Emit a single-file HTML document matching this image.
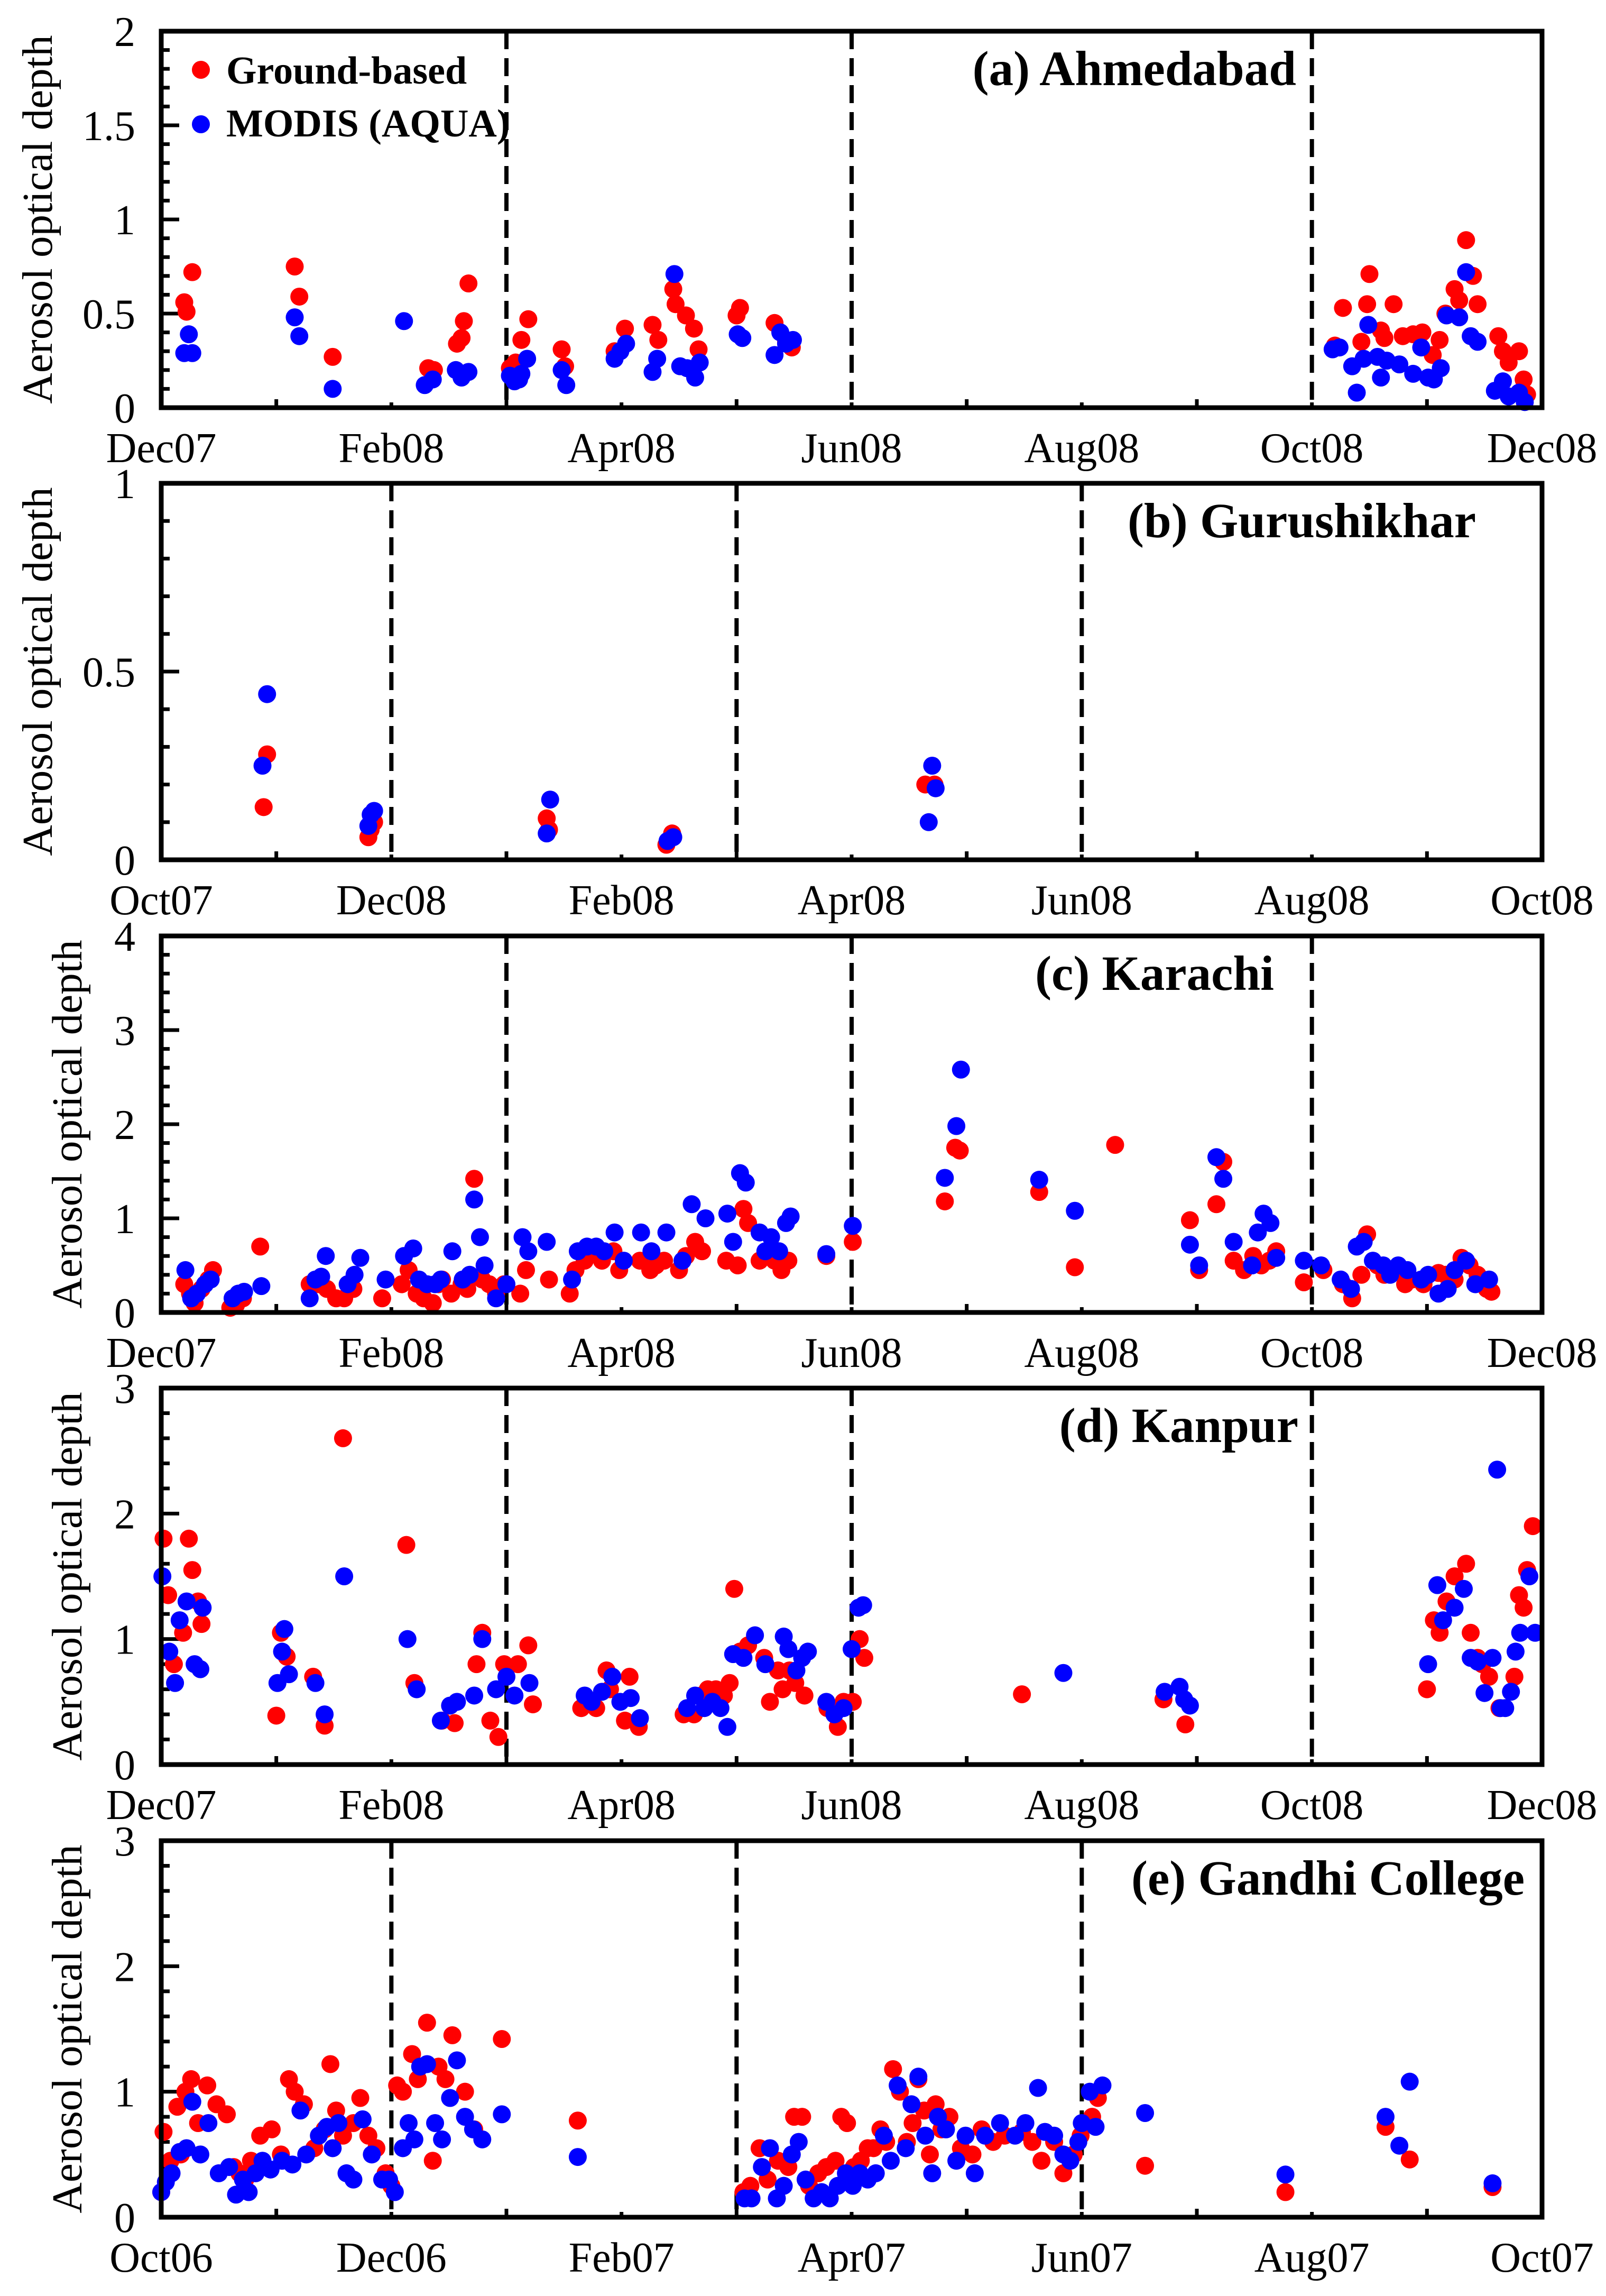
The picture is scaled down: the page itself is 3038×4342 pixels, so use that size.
<!DOCTYPE html>
<html><head><meta charset="utf-8">
<style>
html,body{margin:0;padding:0;background:#fff;}
svg{display:block;}
text{font-family:"Liberation Serif",serif;fill:#000;}
</style></head>
<body>
<svg id="fig" width="3038" height="4342" viewBox="0 0 3038 4342" xmlns="http://www.w3.org/2000/svg"></svg>
<script>
// ---- data: [month offset from first axis label, AOD] ----
const panelTitles = ["(a) Ahmedabad","(b) Gurushikhar","(c) Karachi","(d) Kanpur","(e) Gandhi College"];
const xLabelsA = ["Dec07","Feb08","Apr08","Jun08","Aug08","Oct08","Dec08"];
const xLabelsB = ["Oct07","Dec08","Feb08","Apr08","Jun08","Aug08","Oct08"];
const xLabelsE = ["Oct06","Dec06","Feb07","Apr07","Jun07","Aug07","Oct07"];
const yMaxes = [2,1,4,3,3];
const yMajor = [0.5,0.5,1,1,1];
const yMinor = [0.1,0.1,0.2,0.2,0.2];
const yTickLabelsA = ["0","0.5","1","1.5","2"];
const yTickLabelsB = ["0","0.5","1"];
const yTickLabelsC = ["0","1","2","3","4"];
const yTickLabelsD = ["0","1","2","3"];
const seasonLinesA = [3,6,10];
const seasonLinesB = [2,5,8];

const groundA = [[0.20,0.56],[0.22,0.51],[0.27,0.72],[1.16,0.75],[1.20,0.59],[1.49,0.27],[2.32,0.21],[2.37,0.20],[2.57,0.34],[2.61,0.37],[2.63,0.46],[2.67,0.66],[3.03,0.21],[3.08,0.24],[3.13,0.36],[3.19,0.47],[3.48,0.31],[3.51,0.22],[3.94,0.30],[4.03,0.42],[4.27,0.44],[4.32,0.36],[4.45,0.63],[4.47,0.55],[4.56,0.49],[4.63,0.42],[4.67,0.31],[5.00,0.49],[5.03,0.53],[5.33,0.45],[5.43,0.35],[5.48,0.32],[10.20,0.33],[10.27,0.53],[10.43,0.35],[10.48,0.55],[10.50,0.71],[10.60,0.41],[10.63,0.37],[10.71,0.55],[10.79,0.38],[10.88,0.39],[10.96,0.40],[11.05,0.28],[11.11,0.36],[11.16,0.50],[11.24,0.63],[11.28,0.57],[11.34,0.89],[11.40,0.70],[11.44,0.55],[11.62,0.38],[11.66,0.30],[11.71,0.24],[11.80,0.30],[11.84,0.15],[11.87,0.07]];
const modisA = [[0.20,0.29],[0.24,0.39],[0.27,0.29],[1.16,0.48],[1.20,0.38],[1.49,0.10],[2.11,0.46],[2.29,0.12],[2.36,0.15],[2.56,0.20],[2.61,0.16],[2.63,0.18],[2.67,0.19],[3.03,0.17],[3.07,0.14],[3.11,0.15],[3.13,0.18],[3.18,0.26],[3.48,0.20],[3.52,0.12],[3.94,0.26],[3.99,0.30],[4.04,0.34],[4.27,0.19],[4.31,0.26],[4.46,0.71],[4.51,0.22],[4.57,0.21],[4.64,0.16],[4.68,0.24],[5.01,0.39],[5.05,0.37],[5.33,0.28],[5.38,0.40],[5.43,0.34],[5.49,0.36],[10.18,0.31],[10.24,0.32],[10.35,0.22],[10.39,0.08],[10.45,0.26],[10.49,0.44],[10.57,0.27],[10.60,0.16],[10.65,0.25],[10.76,0.23],[10.88,0.18],[10.95,0.32],[11.01,0.16],[11.06,0.15],[11.12,0.21],[11.17,0.49],[11.28,0.48],[11.34,0.72],[11.38,0.38],[11.44,0.35],[11.59,0.09],[11.66,0.14],[11.71,0.06],[11.80,0.08],[11.85,0.03]];

const groundB = [[0.89,0.14],[0.92,0.28],[1.80,0.06],[1.82,0.08],[1.85,0.10],[3.35,0.11],[3.37,0.08],[4.39,0.04],[4.44,0.07],[6.64,0.20],[6.72,0.20]];
const modisB = [[0.88,0.25],[0.92,0.44],[1.80,0.09],[1.82,0.12],[1.85,0.13],[3.35,0.07],[3.38,0.16],[4.40,0.05],[4.45,0.06],[6.67,0.10],[6.70,0.25],[6.73,0.19]];

const groundC = [[0.20,0.3],[0.25,0.2],[0.29,0.1],[0.35,0.25],[0.41,0.35],[0.45,0.45],[0.60,0.05],[0.65,0.08],[0.71,0.15],[0.86,0.7],[1.29,0.3],[1.37,0.3],[1.44,0.25],[1.52,0.15],[1.59,0.15],[1.67,0.25],[1.92,0.15],[2.09,0.3],[2.15,0.45],[2.22,0.2],[2.28,0.15],[2.36,0.1],[2.41,0.3],[2.44,0.35],[2.52,0.2],[2.61,0.3],[2.66,0.25],[2.72,1.42],[2.79,0.35],[2.85,0.3],[2.91,0.2],[2.98,0.3],[3.12,0.2],[3.17,0.45],[3.37,0.35],[3.55,0.2],[3.60,0.45],[3.68,0.55],[3.74,0.65],[3.83,0.55],[3.93,0.65],[3.98,0.45],[4.16,0.55],[4.25,0.45],[4.30,0.5],[4.37,0.55],[4.50,0.45],[4.56,0.6],[4.64,0.75],[4.70,0.65],[4.91,0.55],[5.01,0.5],[5.06,1.1],[5.10,0.95],[5.20,0.55],[5.26,0.6],[5.33,0.55],[5.39,0.45],[5.45,0.55],[5.78,0.6],[6.01,0.75],[6.81,1.18],[6.90,1.75],[6.94,1.72],[7.63,1.28],[7.94,0.48],[8.29,1.78],[8.94,0.98],[9.02,0.45],[9.17,1.15],[9.23,1.6],[9.32,0.55],[9.41,0.45],[9.49,0.6],[9.56,0.5],[9.63,0.55],[9.69,0.65],[9.93,0.32],[10.10,0.45],[10.27,0.3],[10.35,0.15],[10.43,0.4],[10.48,0.83],[10.57,0.5],[10.63,0.4],[10.72,0.45],[10.81,0.3],[10.87,0.35],[10.97,0.3],[11.10,0.42],[11.16,0.4],[11.24,0.35],[11.30,0.58],[11.37,0.5],[11.44,0.4],[11.52,0.25],[11.56,0.22]];
const modisC = [[0.21,0.45],[0.26,0.15],[0.31,0.2],[0.38,0.3],[0.43,0.35],[0.62,0.15],[0.67,0.2],[0.72,0.22],[0.87,0.28],[1.29,0.15],[1.34,0.35],[1.39,0.38],[1.43,0.6],[1.62,0.3],[1.68,0.4],[1.73,0.58],[1.95,0.35],[2.11,0.6],[2.19,0.68],[2.24,0.35],[2.31,0.3],[2.38,0.3],[2.43,0.35],[2.53,0.65],[2.62,0.35],[2.68,0.4],[2.72,1.2],[2.77,0.8],[2.81,0.5],[2.91,0.15],[3.00,0.3],[3.14,0.8],[3.19,0.65],[3.35,0.75],[3.57,0.35],[3.62,0.65],[3.70,0.7],[3.78,0.7],[3.85,0.65],[3.94,0.85],[4.02,0.55],[4.17,0.85],[4.26,0.65],[4.39,0.85],[4.53,0.55],[4.61,1.15],[4.73,1.0],[4.92,1.05],[4.97,0.75],[5.03,1.48],[5.08,1.38],[5.20,0.85],[5.25,0.65],[5.30,0.8],[5.37,0.65],[5.43,0.95],[5.47,1.02],[5.78,0.62],[6.01,0.92],[6.81,1.43],[6.91,1.98],[6.95,2.58],[7.63,1.41],[7.94,1.08],[8.94,0.72],[9.02,0.5],[9.17,1.65],[9.23,1.42],[9.32,0.75],[9.48,0.5],[9.53,0.85],[9.58,1.05],[9.64,0.95],[9.69,0.58],[9.93,0.55],[10.08,0.5],[10.25,0.35],[10.34,0.25],[10.39,0.7],[10.45,0.75],[10.53,0.55],[10.62,0.5],[10.68,0.4],[10.75,0.5],[10.83,0.45],[10.95,0.35],[11.01,0.4],[11.10,0.2],[11.18,0.25],[11.24,0.45],[11.34,0.55],[11.42,0.3],[11.54,0.35]];

const groundD = [[0.02,1.8],[0.06,1.35],[0.11,0.8],[0.19,1.05],[0.24,1.8],[0.27,1.55],[0.32,1.3],[0.35,1.12],[1.00,0.39],[1.04,1.05],[1.09,0.86],[1.32,0.7],[1.42,0.31],[1.58,2.6],[2.13,1.75],[2.20,0.65],[2.44,0.35],[2.55,0.33],[2.74,0.8],[2.79,1.05],[2.86,0.35],[2.93,0.22],[2.98,0.8],[3.10,0.8],[3.19,0.95],[3.23,0.48],[3.65,0.45],[3.70,0.5],[3.78,0.45],[3.87,0.75],[3.90,0.6],[4.03,0.35],[4.07,0.7],[4.15,0.3],[4.54,0.4],[4.63,0.4],[4.69,0.55],[4.75,0.6],[4.82,0.6],[4.89,0.55],[4.94,0.65],[4.98,1.4],[5.03,0.9],[5.10,0.95],[5.24,0.85],[5.29,0.5],[5.36,0.75],[5.40,0.6],[5.46,0.75],[5.51,0.65],[5.59,0.55],[5.79,0.45],[5.88,0.3],[5.93,0.5],[6.01,0.5],[6.07,1.0],[6.11,0.85],[7.48,0.56],[8.71,0.52],[8.90,0.32],[11.00,0.6],[11.06,1.15],[11.11,1.05],[11.17,1.3],[11.24,1.5],[11.34,1.6],[11.38,1.05],[11.44,0.85],[11.48,0.8],[11.54,0.7],[11.63,0.45],[11.76,0.7],[11.80,1.35],[11.84,1.25],[11.87,1.55],[11.92,1.9]];
const modisD = [[0.01,1.5],[0.07,0.9],[0.12,0.65],[0.16,1.15],[0.22,1.3],[0.29,0.8],[0.34,0.76],[0.36,1.25],[1.01,0.65],[1.05,0.9],[1.07,1.08],[1.11,0.72],[1.34,0.65],[1.42,0.4],[1.59,1.5],[2.14,1.0],[2.22,0.6],[2.43,0.35],[2.51,0.47],[2.57,0.5],[2.72,0.55],[2.79,1.0],[2.91,0.6],[3.00,0.7],[3.07,0.55],[3.20,0.65],[3.68,0.55],[3.74,0.5],[3.83,0.58],[3.92,0.7],[3.99,0.5],[4.08,0.53],[4.16,0.37],[4.57,0.45],[4.64,0.55],[4.72,0.45],[4.79,0.5],[4.86,0.45],[4.92,0.3],[4.97,0.88],[5.06,0.85],[5.16,1.03],[5.25,0.8],[5.41,1.02],[5.45,0.92],[5.52,0.75],[5.57,0.85],[5.62,0.9],[5.78,0.5],[5.85,0.4],[5.93,0.45],[6.00,0.92],[6.06,1.25],[6.10,1.27],[7.84,0.73],[8.72,0.58],[8.85,0.62],[8.89,0.52],[8.94,0.47],[11.01,0.8],[11.09,1.43],[11.14,1.15],[11.24,1.25],[11.32,1.4],[11.38,0.85],[11.44,0.82],[11.50,0.57],[11.57,0.85],[11.61,2.35],[11.64,0.45],[11.68,0.45],[11.73,0.58],[11.77,0.9],[11.81,1.05],[11.89,1.5],[11.94,1.05]];

const groundE = [[0.00,0.2],[0.02,0.68],[0.08,0.45],[0.14,0.88],[0.17,0.5],[0.21,1.0],[0.26,1.1],[0.32,0.75],[0.40,1.05],[0.48,0.9],[0.57,0.82],[0.63,0.4],[0.68,0.35],[0.73,0.3],[0.78,0.45],[0.86,0.65],[0.96,0.7],[1.04,0.5],[1.11,1.1],[1.16,1.0],[1.24,0.9],[1.33,0.55],[1.42,0.7],[1.47,1.22],[1.52,0.85],[1.58,0.65],[1.67,0.75],[1.73,0.95],[1.80,0.65],[1.87,0.55],[1.95,0.35],[2.00,0.25],[2.05,1.05],[2.10,1.0],[2.18,1.3],[2.23,1.1],[2.31,1.55],[2.36,0.45],[2.41,1.2],[2.47,1.1],[2.53,1.45],[2.64,1.0],[2.72,0.7],[2.96,1.42],[3.62,0.77],[5.06,0.2],[5.12,0.25],[5.20,0.55],[5.27,0.3],[5.36,0.45],[5.45,0.4],[5.50,0.8],[5.57,0.8],[5.63,0.25],[5.71,0.35],[5.78,0.4],[5.86,0.45],[5.91,0.8],[5.96,0.75],[6.02,0.4],[6.08,0.45],[6.14,0.55],[6.19,0.55],[6.25,0.7],[6.30,0.6],[6.36,1.18],[6.42,1.0],[6.48,0.6],[6.53,0.75],[6.58,1.1],[6.63,0.85],[6.68,0.5],[6.73,0.9],[6.78,0.7],[6.85,0.8],[6.95,0.55],[7.05,0.5],[7.13,0.7],[7.23,0.6],[7.33,0.65],[7.48,0.68],[7.57,0.6],[7.65,0.45],[7.76,0.6],[7.84,0.35],[7.93,0.5],[7.99,0.65],[8.04,0.75],[8.09,0.8],[8.14,0.95],[8.55,0.41],[9.77,0.2],[10.64,0.72],[10.85,0.46],[11.57,0.24]];
const modisE = [[0.00,0.2],[0.04,0.28],[0.09,0.35],[0.16,0.52],[0.22,0.55],[0.27,0.92],[0.34,0.5],[0.41,0.75],[0.50,0.35],[0.59,0.4],[0.65,0.18],[0.71,0.3],[0.76,0.2],[0.82,0.35],[0.88,0.45],[0.95,0.38],[1.05,0.45],[1.14,0.42],[1.21,0.85],[1.26,0.5],[1.37,0.65],[1.44,0.72],[1.49,0.55],[1.54,0.75],[1.61,0.35],[1.67,0.3],[1.75,0.78],[1.83,0.5],[1.92,0.3],[1.98,0.3],[2.03,0.2],[2.10,0.55],[2.15,0.75],[2.20,0.62],[2.25,1.2],[2.31,1.22],[2.38,0.75],[2.44,0.62],[2.51,0.95],[2.57,1.25],[2.64,0.8],[2.71,0.7],[2.79,0.62],[2.96,0.82],[3.62,0.48],[5.07,0.15],[5.13,0.15],[5.22,0.4],[5.29,0.55],[5.35,0.15],[5.41,0.25],[5.48,0.5],[5.54,0.6],[5.60,0.3],[5.67,0.15],[5.74,0.2],[5.81,0.15],[5.88,0.25],[5.95,0.35],[6.01,0.25],[6.07,0.35],[6.14,0.3],[6.21,0.35],[6.28,0.65],[6.34,0.45],[6.40,1.05],[6.47,0.55],[6.52,0.9],[6.58,1.12],[6.64,0.65],[6.70,0.35],[6.75,0.8],[6.82,0.7],[6.91,0.45],[6.99,0.65],[7.07,0.35],[7.16,0.65],[7.29,0.75],[7.42,0.65],[7.51,0.75],[7.62,1.03],[7.68,0.68],[7.76,0.65],[7.84,0.5],[7.90,0.45],[7.97,0.6],[8.00,0.75],[8.07,1.0],[8.12,0.72],[8.18,1.05],[8.55,0.83],[9.77,0.34],[10.64,0.8],[10.76,0.57],[10.85,1.08],[11.57,0.27]];

const groundSeries = [groundA,groundB,groundC,groundD,groundE];
const modisSeries = [modisA,modisB,modisC,modisD,modisE];
const xLabelSets = [xLabelsA,xLabelsB,xLabelsA,xLabelsA,xLabelsE];
const yLabelSets = [yTickLabelsA,yTickLabelsB,yTickLabelsC,yTickLabelsD,yTickLabelsD];
const seasonSets = [seasonLinesA,seasonLinesB,seasonLinesA,seasonLinesA,seasonLinesB];
const titleRight = [2452,2792,2410,2456,2884];
const yLabelX = [70,70,126,126,126];

// ---- drawing ----
const NS = "http://www.w3.org/2000/svg";
const svg = document.getElementById('fig');
const L = 305, R = 2917, H = 712;
const tops = [59, 914, 1770, 2625, 3481];
function mk(tag, attrs, parent){
  const e = document.createElementNS(NS, tag);
  for (const k in attrs) e.setAttribute(k, attrs[k]);
  (parent||svg).appendChild(e);
  return e;
}
for (let p = 0; p < 5; p++) {
  const T = tops[p], B = T + H;
  const ymax = yMaxes[p];
  const xs = m => L + (R - L) * m / 12;
  const ys = v => B - H * v / ymax;
  const g = mk('g', {});
  
  
  seasonSets[p].forEach(m => {
    const l = mk('line', {x1: xs(m), x2: xs(m), y1: T, y2: B, stroke: '#000', 'stroke-width': 8, 'stroke-dasharray': '34 17'}, g);
    
    
  });
  const nMinor = Math.round(ymax / yMinor[p]);
  for (let i = 1; i < nMinor; i++) {
    const v = i * yMinor[p];
    const isMajor = Math.abs(v / yMajor[p] - Math.round(v / yMajor[p])) < 1e-6;
    mk('line', {x1: L, x2: L + (isMajor ? 34 : 16), y1: ys(v), y2: ys(v), stroke: '#000', 'stroke-width': 7}, g);
  }
  yLabelSets[p].forEach((lab, i) => {
    const t = mk('text', {x: 256, y: ys(i * yMajor[p]) + 28, 'font-size': 80, 'text-anchor': 'end'}, g);
    t.textContent = lab;
    
    
  });
  for (let m = 1; m < 12; m++) {
    mk('line', {x1: xs(m), x2: xs(m), y1: B, y2: B - (m % 2 ? 16 : 10), stroke: '#000', 'stroke-width': 7}, g);
  }
  xLabelSets[p].forEach((lab, i) => {
    const t = mk('text', {x: xs(i * 2), y: B + 103, 'font-size': 80, 'text-anchor': 'middle'}, g);
    t.textContent = lab;
    
    
  });
  const yl = mk('text', {x: 0, y: 0, 'font-size': 81, 'text-anchor': 'middle', transform: `translate(${yLabelX[p] + 28},${(T + B) / 2}) rotate(-90)`}, g);
  yl.textContent = 'Aerosol optical depth';
  
  
  groundSeries[p].forEach(d => {
    const c = mk('circle', {cx: xs(d[0]), cy: ys(d[1]), r: 17, fill: '#ff0000'}, g);
    
    
  });
  modisSeries[p].forEach(d => {
    const c = mk('circle', {cx: xs(d[0]), cy: ys(d[1]), r: 17, fill: '#0000ff'}, g);
    
    
  });
  const f = mk('rect', {x: L, y: T, width: R - L, height: H, fill: 'none', stroke: '#000', 'stroke-width': 9}, g);
  
  
  const tt = mk('text', {x: titleRight[p], y: T + 102, 'font-size': 93, 'font-weight': 'bold', 'text-anchor': 'end'}, g);
  tt.textContent = panelTitles[p];
  
  
}
const lg = mk('g', {});


const c1 = mk('circle', {cx: 380, cy: 132, r: 17, fill: '#ff0000'}, lg);


const t1 = mk('text', {x: 428, y: 158, 'font-size': 74, 'font-weight': 'bold'}, lg);
t1.textContent = 'Ground-based';


const c2 = mk('circle', {cx: 380, cy: 235, r: 17, fill: '#0000ff'}, lg);


const t2 = mk('text', {x: 428, y: 258, 'font-size': 74, 'font-weight': 'bold'}, lg);
t2.textContent = 'MODIS (AQUA)';


</script>
</body></html>
